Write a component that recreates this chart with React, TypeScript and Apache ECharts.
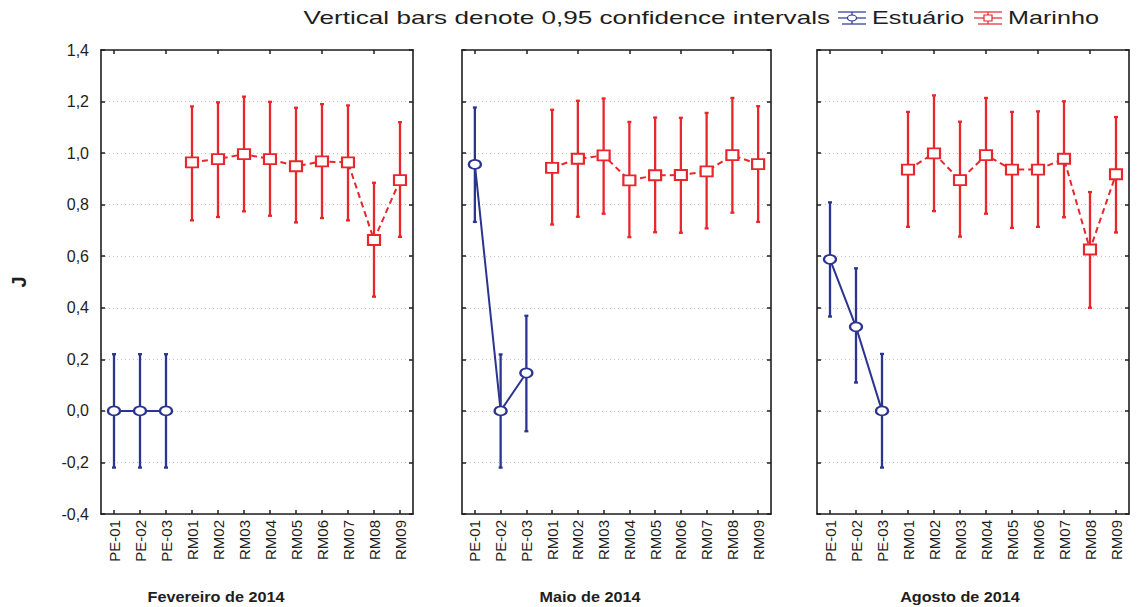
import React, { useEffect, useRef } from "react";
import * as echarts from "echarts";

// Sampling sites along the x axis
const categories = [
  "PE-01", "PE-02", "PE-03",
  "RM01", "RM02", "RM03", "RM04", "RM05", "RM06", "RM07", "RM08", "RM09",
];
const panelTitles = ["Fevereiro de 2014", "Maio de 2014", "Agosto de 2014"];
const seriesNames = ["Estuário", "Marinho"];
const legendNote = "Vertical bars denote 0,95 confidence intervals";

// Fevereiro de 2014 — means of J with 0,95 confidence limits
const febEstuario = [0.0, 0.0, 0.0];
const febEstuarioLow = [-0.22, -0.22, -0.22];
const febEstuarioHigh = [0.22, 0.22, 0.22];
const febMarinho = [0.964, 0.977, 0.996, 0.977, 0.949, 0.968, 0.964, 0.663, 0.895];
const febMarinhoLow = [0.739, 0.752, 0.774, 0.757, 0.731, 0.748, 0.739, 0.443, 0.675];
const febMarinhoHigh = [1.181, 1.197, 1.219, 1.199, 1.176, 1.19, 1.185, 0.885, 1.12];

// Maio de 2014
const mayEstuario = [0.956, 0.0, 0.147];
const mayEstuarioLow = [0.733, -0.22, -0.079];
const mayEstuarioHigh = [1.177, 0.219, 0.369];
const mayMarinho = [0.943, 0.978, 0.991, 0.894, 0.914, 0.915, 0.929, 0.992, 0.957];
const mayMarinhoLow = [0.723, 0.753, 0.765, 0.674, 0.693, 0.691, 0.708, 0.769, 0.733];
const mayMarinhoHigh = [1.168, 1.203, 1.212, 1.121, 1.138, 1.137, 1.156, 1.214, 1.182];

// Agosto de 2014
const augEstuario = [0.588, 0.326, 0.0];
const augEstuarioLow = [0.366, 0.11, -0.22];
const augEstuarioHigh = [0.809, 0.553, 0.221];
const augMarinho = [0.936, 0.999, 0.895, 0.992, 0.936, 0.936, 0.978, 0.626, 0.918];
const augMarinhoLow = [0.714, 0.775, 0.676, 0.765, 0.71, 0.714, 0.751, 0.4, 0.692];
const augMarinhoHigh = [1.16, 1.224, 1.122, 1.214, 1.16, 1.162, 1.201, 0.849, 1.14];

const panels = [
  { est: [febEstuario, febEstuarioLow, febEstuarioHigh], mar: [febMarinho, febMarinhoLow, febMarinhoHigh] },
  { est: [mayEstuario, mayEstuarioLow, mayEstuarioHigh], mar: [mayMarinho, mayMarinhoLow, mayMarinhoHigh] },
  { est: [augEstuario, augEstuarioLow, augEstuarioHigh], mar: [augMarinho, augMarinhoLow, augMarinhoHigh] },
];

const BLUE = "#2b3590";
const RED = "#e8262b";
const INK = "#1e1e1e";
const FONT = "Liberation Sans, Arial, sans-serif";

const grids = [
  { left: 101, width: 312 },
  { left: 462, width: 309 },
  { left: 817, width: 312 },
];
const titleCenters = [216, 590, 960];

const fmt = (v: number) => v.toFixed(1).replace(".", ",");

function errorBarSeries(name: string, color: string, data: number[][], axisIdx: number) {
  return {
    name,
    type: "custom",
    xAxisIndex: axisIdx,
    yAxisIndex: axisIdx,
    z: 2,
    data,
    encode: { x: 0, y: [1, 2] },
    renderItem: (_params: any, api: any) => {
      const x = api.value(0);
      const lo = api.coord([x, api.value(1)]);
      const hi = api.coord([x, api.value(2)]);
      const cap = 2;
      const style = { stroke: color, lineWidth: 2.3 };
      return {
        type: "group",
        children: [
          { type: "line", shape: { x1: lo[0], y1: lo[1], x2: hi[0], y2: hi[1] }, style },
          { type: "line", shape: { x1: hi[0] - cap, y1: hi[1], x2: hi[0] + cap, y2: hi[1] }, style },
          { type: "line", shape: { x1: lo[0] - cap, y1: lo[1], x2: lo[0] + cap, y2: lo[1] }, style },
        ],
      };
    },
  };
}

function legendIcon(x: number, y: number, color: string, marker: "circle" | "rect") {
  const st = { stroke: color, lineWidth: 1.2, fill: "none" };
  const children: any[] = [
    { type: "line", shape: { x1: x, y1: y - 6, x2: x + 28, y2: y - 6 }, style: st },
    { type: "line", shape: { x1: x, y1: y, x2: x + 28, y2: y }, style: st },
    { type: "line", shape: { x1: x + 4, y1: y + 6, x2: x + 28, y2: y + 6 }, style: st },
    { type: "line", shape: { x1: x + 14, y1: y - 6, x2: x + 14, y2: y + 6 }, style: st },
  ];
  if (marker === "circle") {
    children.push({ type: "ellipse", shape: { cx: x + 14, cy: y, rx: 4.5, ry: 3 }, style: { stroke: color, lineWidth: 1.2, fill: "#fff" } });
  } else {
    children.push({ type: "rect", shape: { x: x + 10, y: y - 3, width: 8, height: 6 }, style: { stroke: color, lineWidth: 1.2, fill: "#fff" } });
  }
  return { type: "group", children };
}

function wideText(text: string, x: number, y: number, align: string, scaleX: number) {
  return {
    type: "text",
    x,
    y,
    scaleX,
    style: { text, fill: INK, fontSize: 18, fontFamily: FONT, align, verticalAlign: "middle" },
  };
}

export default function App() {
  const ref = useRef<HTMLDivElement>(null);

  useEffect(() => {
    if (!ref.current) return;
    const chart = echarts.init(ref.current, undefined, { renderer: "svg" });

    const axisLine = { show: true, onZero: false, lineStyle: { color: INK, width: 1.6 } };
    const axisTick = { show: true, inside: true, length: 4, lineStyle: { color: INK, width: 1.5 } };

    const xAxis: any[] = [];
    const yAxis: any[] = [];
    const series: any[] = [];

    grids.forEach((_, i) => {
      xAxis.push({
        gridIndex: i,
        type: "category",
        data: categories,
        boundaryGap: true,
        position: "bottom",
        axisLine,
        axisTick: { ...axisTick, alignWithLabel: true },
        axisLabel: { rotate: 90, interval: 0, margin: 6, fontSize: 15, color: INK, fontFamily: FONT },
        splitLine: { show: false },
      });
      xAxis.push({
        gridIndex: i,
        type: "category",
        data: categories,
        boundaryGap: true,
        position: "top",
        axisLine,
        axisTick: { ...axisTick, alignWithLabel: true },
        axisLabel: { show: false },
        splitLine: { show: false },
      });
      yAxis.push({
        gridIndex: i,
        type: "value",
        min: -0.4,
        max: 1.4,
        interval: 0.2,
        position: "left",
        axisLine,
        axisTick,
        axisLabel: { show: i === 0, formatter: fmt, fontSize: 16, color: INK, margin: 12, fontFamily: FONT },
        splitLine: { show: true, lineStyle: { color: "#c4c4c4", type: [1, 3], width: 1 } },
        ...(i === 0
          ? {
              name: "J",
              nameLocation: "middle",
              nameGap: 72,
              nameRotate: 90,
              nameTextStyle: { fontSize: 20, fontWeight: "bold", color: INK, fontFamily: FONT },
            }
          : {}),
      });
      yAxis.push({
        gridIndex: i,
        type: "value",
        min: -0.4,
        max: 1.4,
        interval: 0.2,
        position: "right",
        axisLine,
        axisTick,
        axisLabel: { show: false },
        splitLine: { show: false },
      });

      const axisIdx = 2 * i;
      const p = panels[i];
      const estData = categories.map((_, k) => (k < 3 ? p.est[0][k] : "-"));
      const marData = categories.map((_, k) => (k >= 3 ? p.mar[0][k - 3] : "-"));
      const estBars = p.est[0].map((_, k) => [k, p.est[1][k], p.est[2][k]]);
      const marBars = p.mar[0].map((_, k) => [k + 3, p.mar[1][k], p.mar[2][k]]);

      series.push(errorBarSeries(seriesNames[0], BLUE, estBars, axisIdx));
      series.push(errorBarSeries(seriesNames[1], RED, marBars, axisIdx));
      series.push({
        name: seriesNames[0],
        type: "line",
        xAxisIndex: axisIdx,
        yAxisIndex: axisIdx,
        z: 3,
        data: estData,
        connectNulls: false,
        symbol: "emptyCircle",
        symbolSize: [12, 9],
        lineStyle: { color: BLUE, width: 2 },
        itemStyle: { color: BLUE, borderWidth: 1.3 },
      });
      series.push({
        name: seriesNames[1],
        type: "line",
        xAxisIndex: axisIdx,
        yAxisIndex: axisIdx,
        z: 3,
        data: marData,
        connectNulls: false,
        symbol: "emptyRect",
        symbolSize: [12, 10],
        lineStyle: { color: RED, width: 2, type: [6, 4] },
        itemStyle: { color: RED, borderWidth: 1.3 },
      });
    });

    const graphic: any[] = [
      wideText(legendNote, 830, 18, "right", 1.45),
      legendIcon(838, 18, BLUE, "circle"),
      wideText(seriesNames[0], 872, 18, "left", 1.4),
      legendIcon(974, 18, RED, "rect"),
      wideText(seriesNames[1], 1008, 18, "left", 1.4),
    ];

    panelTitles.forEach((t, i) => {
      graphic.push({
        type: "text",
        x: titleCenters[i],
        y: 597,
        scaleX: 1.08,
        style: {
          text: t,
          fill: INK,
          fontSize: 15,
          fontWeight: "bold",
          fontFamily: FONT,
          align: "center",
          verticalAlign: "middle",
        },
      });
    });

    chart.setOption({
      animation: false,
      backgroundColor: "#ffffff",
      grid: grids.map((g) => ({ left: g.left, width: g.width, top: 50, height: 464, show: false })),
      xAxis,
      yAxis,
      series,
      graphic,
    });

    return () => chart.dispose();
  }, []);

  return <div ref={ref} style={{ position: "fixed", left: 0, top: 0, width: 1143, height: 607 }} />;
}
